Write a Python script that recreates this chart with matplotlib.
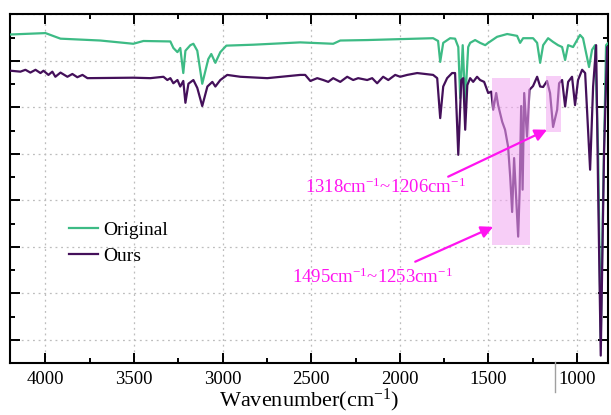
import matplotlib
matplotlib.use("Agg")
import matplotlib.pyplot as plt
from matplotlib.patches import Rectangle
from matplotlib.lines import Line2D
from matplotlib.ticker import MultipleLocator

plt.rcParams['font.family'] = ['Liberation Serif', 'DejaVu Serif']
plt.rcParams['mathtext.fontset'] = 'custom'
plt.rcParams['mathtext.rm'] = 'Liberation Serif'
plt.rcParams['mathtext.it'] = 'Liberation Serif:italic'

# ---- data (wavenumber cm^-1, transmittance a.u.) ----
orig_wn = [4197, 4000, 3915, 3690, 3504, 3447, 3295, 3278, 3255, 3239, 3222, 3210,
           3182, 3165, 3143, 3115, 3081, 3064, 3041, 3013, 2979, 2827, 2562, 2376,
           2336, 2184, 1812, 1784, 1772, 1755, 1716, 1688, 1670, 1659, 1645, 1631,
           1614, 1603, 1575, 1547, 1518, 1501, 1451, 1394, 1338, 1321, 1304, 1248,
           1225, 1208, 1191, 1163, 1135, 1107, 1084, 1067, 1050, 1022, 983, 966,
           932, 915, 898, 881, 866, 853, 836, 808]
orig_t = [95.7, 96.0, 94.8, 94.4, 93.7, 94.3, 94.2, 92.8, 91.9, 92.8, 87.4, 92.2,
          93.4, 93.7, 92.2, 85.1, 90.4, 91.5, 89.6, 91.9, 93.3, 93.5, 94.0, 93.7,
          94.4, 94.5, 94.9, 94.3, 89.8, 93.9, 94.9, 94.8, 93.0, 82.0, 93.4, 81.2,
          93.0, 93.9, 94.5, 93.9, 93.4, 93.9, 95.2, 95.8, 95.4, 93.9, 94.9, 94.9,
          93.9, 89.6, 93.4, 94.9, 94.1, 93.4, 93.0, 90.2, 93.4, 93.0, 95.6, 94.9,
          88.7, 92.4, 93.4, 70.9, 30.0, 60.1, 93.4, 94.5]

ours_wn = [4197, 4141, 4113, 4085, 4056, 4028, 4011, 3983, 3961, 3944, 3915, 3876,
           3848, 3820, 3791, 3763, 3504, 3408, 3334, 3312, 3295, 3278, 3255, 3239,
           3222, 3210, 3193, 3165, 3143, 3115, 3086, 3058, 3041, 3013, 2974, 2900,
           2748, 2562, 2534, 2505, 2466, 2432, 2404, 2376, 2336, 2297, 2263, 2235,
           2184, 2156, 2128, 2094, 2065, 2026, 1998, 1958, 1902, 1812, 1789, 1772,
           1755, 1733, 1705, 1688, 1670, 1653, 1642, 1631, 1619, 1603, 1586, 1564,
           1547, 1524, 1501, 1484, 1473, 1456, 1445, 1422, 1406, 1389, 1377, 1366,
           1355, 1332, 1324, 1315, 1307, 1298, 1282, 1268, 1248, 1225, 1208, 1191,
           1169, 1152, 1135, 1112, 1101, 1084, 1067, 1050, 1028, 1011, 994, 971,
           954, 926, 909, 892, 881, 866, 847, 830, 808]
ours_t = [87.9, 87.7, 88.1, 87.5, 88.1, 87.4, 87.9, 87.0, 87.7, 86.6, 87.5, 86.6,
          87.2, 86.5, 87.0, 86.3, 86.4, 86.3, 86.6, 85.9, 86.3, 85.2, 85.9, 84.5,
          85.7, 81.0, 85.1, 85.9, 84.2, 80.3, 84.5, 85.5, 84.5, 85.9, 87.0, 86.6,
          86.3, 87.0, 87.0, 85.7, 86.3, 85.9, 85.5, 86.3, 85.5, 86.6, 85.9, 86.3,
          85.9, 86.3, 85.2, 86.6, 85.9, 87.0, 86.6, 87.0, 87.4, 87.0, 86.3, 77.7,
          84.5, 86.3, 87.4, 87.4, 69.8, 85.9, 86.3, 75.2, 84.8, 86.3, 85.5, 86.6,
          85.9, 85.5, 83.1, 83.4, 79.5, 83.1, 80.5, 76.9, 75.2, 71.6, 65.1, 57.5,
          69.1, 52.2, 61.6, 80.3, 62.3, 83.1, 73.7, 83.8, 84.6, 86.6, 84.5, 84.4,
          85.7, 83.1, 75.8, 79.5, 85.2, 85.9, 80.2, 85.5, 86.6, 80.5, 85.9, 88.1,
          87.4, 66.6, 84.5, 93.4, 62.9, 26.6, 70.9, 93.0, 93.0]

series_labels = ["Original", "Ours"]
series_colors = ["#3dbb85", "#44105a"]

# highlighted regions: (wn_left, wn_right, t_low, t_high)
regions = [(1482, 1266, 50.3, 86.4), (1176, 1091, 74.7, 86.8)]

annot_texts = ["1318cm$^{-1}$~1206cm$^{-1}$", "1495cm$^{-1}$~1253cm$^{-1}$"]
annot_text_pos = [(2082, 62.9), (2156, 43.5)]
annot_tail = [(1727, 65.1), (1913, 46.8)]
annot_head = [(1169, 75.2), (1473, 54.3)]

xticks = [4000, 3500, 3000, 2500, 2000, 1500, 1000]

# ---- figure ----
fig = plt.figure(figsize=(6.11, 4.15), dpi=100)
ax = fig.add_axes([10/611, 1-363/415, 598/611, (363-14.5)/415])

ax.plot(orig_wn, orig_t, color=series_colors[0], lw=1.6, label=series_labels[0], zorder=3)
ax.plot(ours_wn, ours_t, color=series_colors[1], lw=1.6, label=series_labels[1], zorder=3)

for (x0, x1, y0, y1) in regions:
    ax.add_patch(Rectangle((x0, y0), x1 - x0, y1 - y0, facecolor="#f2a6f2",
                           alpha=0.55, edgecolor="none", zorder=4))

mag = "#ff14f0"
for txt, tp, tl, hd in zip(annot_texts, annot_text_pos, annot_tail, annot_head):
    ax.annotate("", xy=hd, xytext=tl,
                arrowprops=dict(arrowstyle="-|>", color=mag, lw=1.6,
                                mutation_scale=18, shrinkA=0, shrinkB=0),
                zorder=5)
    ax.text(tp[0], tp[1], txt, color=mag, fontsize=13.5, ha="center", va="center", zorder=5)

ax.set_xlim(4200, 825)
ax.set_ylim(25, 100)
ax.set_xticks(xticks)
ax.xaxis.set_minor_locator(MultipleLocator(250))
ax.yaxis.set_major_locator(MultipleLocator(10))
ax.yaxis.set_minor_locator(MultipleLocator(5))
ax.tick_params(which="both", direction="in", top=True, right=True,
               labelleft=False, labelsize=13.5, width=1.4, pad=6)
ax.tick_params(which="major", length=7)
ax.tick_params(which="minor", length=3.5)
for s in ax.spines.values():
    s.set_linewidth(1.5)
ax.grid(True, which="major", linestyle=(0, (1.5, 3)), color="#bdbdbd", lw=0.9, zorder=0)
ax.set_xlabel("Wavenumber(cm$^{-1}$)", fontsize=16, labelpad=-1)

leg = ax.legend(loc="upper left", bbox_to_anchor=(0.085, 0.43), frameon=False,
                fontsize=14, handlelength=1.5, handletextpad=0.3, labelspacing=0.45,
                borderaxespad=0)

fig.add_artist(Line2D([555/611, 555/611], [1-392/415, 1-362/415],
                      color="#a0a0a0", lw=1.0, transform=fig.transFigure))

fig.savefig("out.png", dpi=100)
